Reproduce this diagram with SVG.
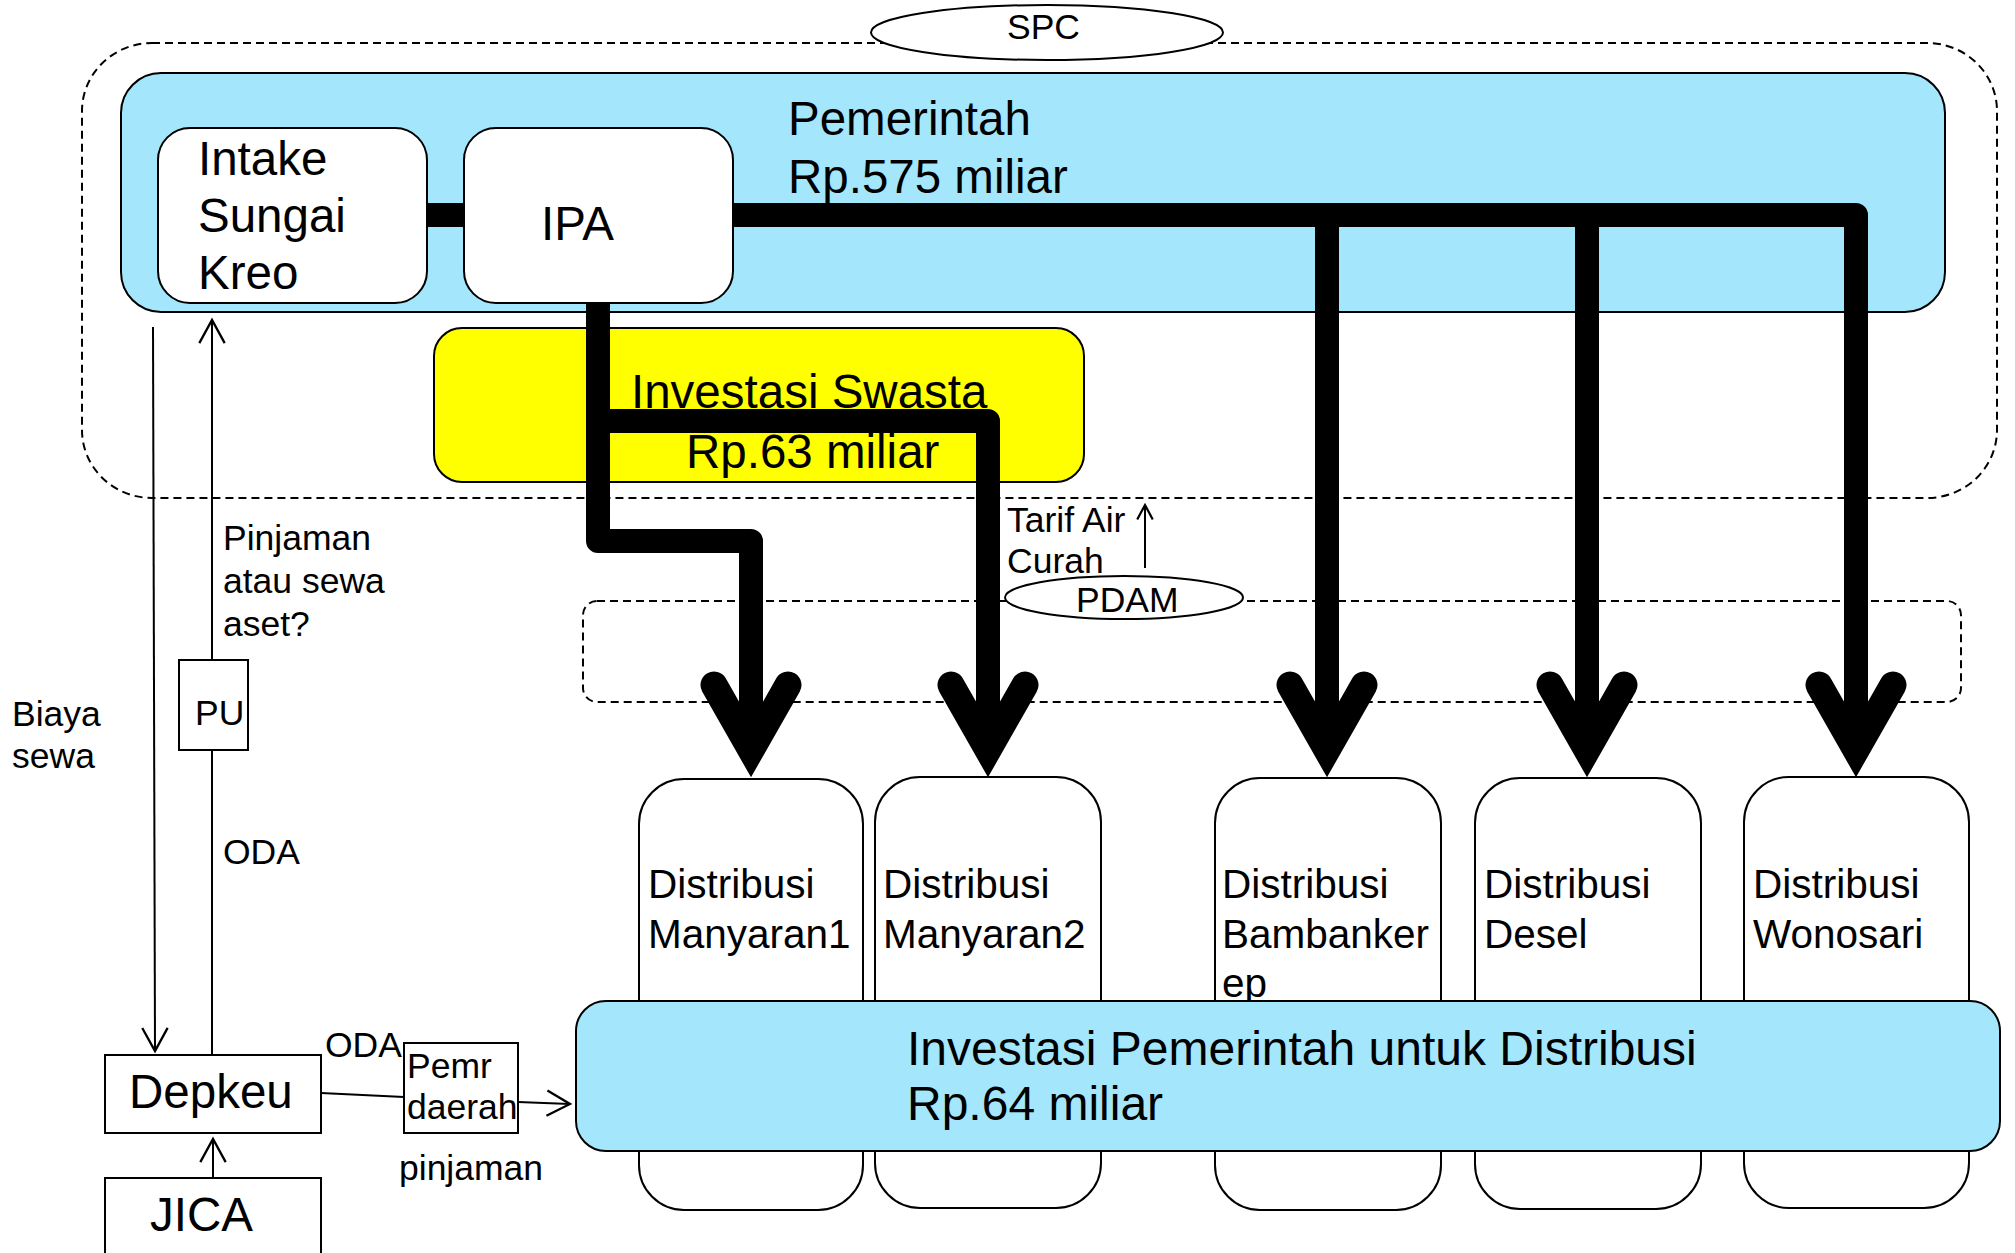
<svg xmlns="http://www.w3.org/2000/svg" width="2015" height="1253" viewBox="0 0 2015 1253">
  <style>
    text { font-family: "Liberation Sans", Arial, sans-serif; fill: #000; }
    .big { font-size: 47.5px; }
    .mid { font-size: 40.5px; }
    .sm { font-size: 35.5px; }
    .box { fill: #fff; stroke: #000; stroke-width: 2; }
    .blue { fill: #A4E7FC; stroke: #000; stroke-width: 2; }
    .yellow { fill: #FFFF00; stroke: #000; stroke-width: 2; }
    .dash { fill: none; stroke: #000; stroke-width: 2; stroke-dasharray: 8 5; }
    .thin { fill: none; stroke: #000; stroke-width: 2; }
    .pipe { fill: none; stroke: #000; stroke-width: 24; stroke-linejoin: round; stroke-linecap: butt; }
    .head { fill: none; stroke: #000; stroke-width: 27; stroke-linejoin: miter; stroke-miterlimit: 6; stroke-linecap: round; }
  </style>
  <defs>
    <marker id="open" markerUnits="userSpaceOnUse" markerWidth="30" markerHeight="30" viewBox="-22 -13 24 26" refX="0" refY="0" orient="auto">
      <path d="M-20,-11 L0,0 L-20,11" fill="none" stroke="#000" stroke-width="2"/>
    </marker>
    <marker id="openSmall" markerUnits="userSpaceOnUse" markerWidth="20" markerHeight="20" viewBox="-15 -9 17 18" refX="0" refY="0" orient="auto">
      <path d="M-13,-7 L0,0 L-13,7" fill="none" stroke="#000" stroke-width="2"/>
    </marker>
    <path id="chev" d="M-37,-93 L0,-28 L37,-93"/>
  </defs>

  <!-- SPC boundary -->
  <g id="spc">
    <rect class="dash" x="82" y="43" width="1915" height="455" rx="70" ry="68"/>
    <ellipse class="box" cx="1047" cy="32.5" rx="176" ry="27.5"/>
    <text class="sm" x="1007" y="39">SPC</text>
  </g>

  <!-- Government block -->
  <g id="pemerintah">
    <rect class="blue" x="121" y="73" width="1824" height="239" rx="40" ry="40"/>
    <text class="big" x="788" y="135">Pemerintah</text>
    <text class="big" x="788" y="193">Rp.575 miliar</text>
  </g>

  <g id="intake">
    <rect class="box" x="158" y="128" width="269" height="175" rx="32" ry="32"/>
    <text class="big" x="198" y="175">Intake</text>
    <text class="big" x="198" y="232">Sungai</text>
    <text class="big" x="198" y="289">Kreo</text>
  </g>

  <g id="ipa">
    <rect class="box" x="464" y="128" width="269" height="175" rx="32" ry="32"/>
    <text class="big" x="541" y="240">IPA</text>
  </g>

  <g id="swasta">
    <rect class="yellow" x="434" y="328" width="650" height="154" rx="28" ry="28"/>
    <text class="big" x="631" y="408">Investasi Swasta</text>
    <text class="big" x="686" y="468">Rp.63 miliar</text>
  </g>

  <!-- PDAM boundary -->
  <g id="pdam">
    <rect class="dash" x="583" y="601" width="1378" height="101" rx="14" ry="14"/>
    <ellipse class="box" cx="1124" cy="597.5" rx="119" ry="21.5"/>
    <text class="sm" x="1076" y="612">PDAM</text>
  </g>

  <!-- Distribution zones -->
  <g id="dist-manyaran1">
    <rect class="box" x="639" y="779" width="224" height="431" rx="45" ry="45"/>
    <text class="mid" x="648" y="898">Distribusi</text>
    <text class="mid" x="648" y="948">Manyaran1</text>
  </g>
  <g id="dist-manyaran2">
    <rect class="box" x="875" y="777" width="226" height="431" rx="45" ry="45"/>
    <text class="mid" x="883" y="898">Distribusi</text>
    <text class="mid" x="883" y="948">Manyaran2</text>
  </g>
  <g id="dist-bambankerep">
    <rect class="box" x="1215" y="778" width="226" height="432" rx="45" ry="45"/>
    <text class="mid" x="1222" y="898">Distribusi</text>
    <text class="mid" x="1222" y="948">Bambanker</text>
    <text class="mid" x="1222" y="997">ep</text>
  </g>
  <g id="dist-desel">
    <rect class="box" x="1475" y="778" width="226" height="431" rx="45" ry="45"/>
    <text class="mid" x="1484" y="898">Distribusi</text>
    <text class="mid" x="1484" y="948">Desel</text>
  </g>
  <g id="dist-wonosari">
    <rect class="box" x="1744" y="777" width="225" height="431" rx="45" ry="45"/>
    <text class="mid" x="1753" y="898">Distribusi</text>
    <text class="mid" x="1753" y="948">Wonosari</text>
  </g>

  <g id="invest-distribusi">
    <rect class="blue" x="576" y="1001" width="1424" height="150" rx="30" ry="30"/>
    <text class="big" x="907" y="1065" style="font-size:48px">Investasi Pemerintah untuk Distribusi</text>
    <text class="big" x="907" y="1120" style="font-size:48px">Rp.64 miliar</text>
  </g>

  <!-- Finance side -->
  <g id="depkeu">
    <rect class="box" x="105" y="1055" width="216" height="78"/>
    <text class="big" x="129" y="1108">Depkeu</text>
  </g>
  <g id="jica">
    <rect class="box" x="105" y="1178" width="216" height="90"/>
    <text class="big" x="150" y="1231">JICA</text>
  </g>
  <g id="pemr-daerah">
    <rect class="box" x="404" y="1043" width="114" height="90"/>
    <text class="sm" x="407" y="1078">Pemr</text>
    <text class="sm" x="407" y="1119">daerah</text>
  </g>

  <!-- Connectors -->
  <g id="connectors">
    <!-- money flows -->
    <line class="thin" x1="153" y1="327" x2="155" y2="1051" marker-end="url(#open)"/>
    <line class="thin" x1="212" y1="1055" x2="212" y2="320" marker-end="url(#open)"/>
    <line class="thin" x1="213" y1="1178" x2="213" y2="1139" marker-end="url(#open)"/>
    <line class="thin" x1="321" y1="1093" x2="404" y2="1097"/>
    <line class="thin" x1="518" y1="1102" x2="570" y2="1104" marker-end="url(#open)"/>
    <line class="thin" x1="1145" y1="568" x2="1145" y2="505" marker-end="url(#openSmall)"/>

    <!-- water pipes -->
    <path class="pipe" d="M427,215 H464"/>
    <path class="pipe" d="M733,215 H1856 V752"/>
    <path class="pipe" d="M1327,215 V752"/>
    <path class="pipe" d="M1587,215 V752"/>
    <path class="pipe" d="M598,303 V541 H751 V752"/>
    <path class="pipe" d="M598,421 H988 V752"/>
    <use href="#chev" class="head" x="751" y="778"/>
    <use href="#chev" class="head" x="988" y="778"/>
    <use href="#chev" class="head" x="1327" y="778"/>
    <use href="#chev" class="head" x="1587" y="778"/>
    <use href="#chev" class="head" x="1856" y="778"/>
  </g>

  <g id="pu">
    <rect class="box" x="179" y="660" width="69" height="90"/>
    <text class="sm" x="195" y="725">PU</text>
  </g>

  <!-- Flow labels -->
  <g id="labels">
    <text class="sm" x="223" y="550">Pinjaman</text>
    <text class="sm" x="223" y="593">atau sewa</text>
    <text class="sm" x="223" y="636">aset?</text>
    <text class="sm" x="12" y="726">Biaya</text>
    <text class="sm" x="12" y="768">sewa</text>
    <text class="sm" x="223" y="864">ODA</text>
    <text class="sm" x="325" y="1057">ODA</text>
    <text class="sm" x="399" y="1180">pinjaman</text>
    <text class="sm" x="1007" y="532">Tarif Air</text>
    <text class="sm" x="1007" y="573">Curah</text>
  </g>
</svg>
